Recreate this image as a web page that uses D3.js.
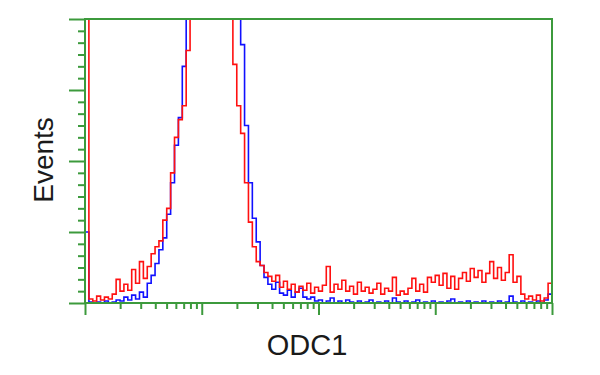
<!DOCTYPE html>
<html>
<head>
<meta charset="utf-8">
<script src="https://cdn.jsdelivr.net/npm/d3@7"></script>
<style>
  body { margin: 0; background: #fff; }
  text { font-family: "Liberation Sans", Arial, sans-serif; fill: #1a1a1a; }
</style>
</head>
<body>
<svg id="chart" width="600" height="375"></svg>
<script>
// histogram channels, 30 per decade over 4 decades (1 .. 10^4)
const channelsPerDecade = 30;

// red = ODC1 stained, blue = control (events per channel)
const redCounts = [
  420, 4, 2, 7, 3, 6, 4, 9, 24, 12,
  19, 13, 34, 20, 42, 25, 37, 50, 57, 63,
  84, 96, 132, 168, 186, 200, 256, 330, 420, 510,
  590, 640, 660, 630, 560, 480, 400, 330, 242, 200,
  172, 122, 82, 57, 42, 38, 31, 27, 22, 28,
  16, 22, 14, 19, 11, 17, 13, 20, 10, 16,
  12, 18, 37, 11, 19, 14, 23, 12, 17, 9,
  21, 12, 16, 10, 14, 20, 9, 15, 12, 26,
  8, 12, 9, 15, 25, 12, 19, 11, 26, 21,
  28, 18, 30, 15, 27, 14, 25, 31, 22, 35,
  26, 33, 21, 30, 42, 25, 36, 23, 31, 49,
  21, 27, 9, 4, 7, 3, 8, 2, 5, 20
];
const blueCounts = [
  72, 1, 0, 1, 0, 2, 0, 1, 3, 2,
  6, 3, 8, 4, 11, 6, 20, 28, 40, 54,
  66, 90, 122, 160, 188, 240, 330, 420, 520, 600,
  660, 700, 710, 680, 620, 540, 460, 390, 330, 290,
  262, 180, 122, 86, 62, 38, 26, 19, 14, 21,
  10, 8, 13, 6, 11, 15, 6, 4, 6, 2,
  3, 0, 2, 5, 0, 2, 0, 3, 1, 0,
  2, 0, 1, 3, 0, 1, 0, 2, 0, 5,
  1, 0, 2, 0, 1, 3, 0, 1, 0, 2,
  0, 1, 0, 2, 4, 0, 1, 0, 2, 0,
  1, 0, 2, 0, 1, 0, 2, 0, 1, 7,
  1, 0, 2, 0, 1, 0, 2, 0, 3, 9
];

const xDecades = [1, 10, 100, 1000, 10000];
const yMajor = [0, 72, 144, 216, 288];
const yMinorStep = 12;

const green = "#3c9a3c";
const margin = { left: 85, right: 48, top: 19, bottom: 72 };
const W = 600, H = 375;

const svg = d3.select("#chart");
svg.append("rect").attr("width", W).attr("height", H).attr("fill", "#fff");

const x = d3.scaleLog().domain([1, 10000]).range([margin.left, W - margin.right]);
const xChan = d3.scaleLinear().domain([0, redCounts.length]).range([margin.left, W - margin.right]);
const y = d3.scaleLinear().domain([0, 288]).range([H - margin.bottom, margin.top]);

svg.append("clipPath").attr("id", "plot-clip")
  .append("rect")
  .attr("x", margin.left).attr("y", margin.top)
  .attr("width", W - margin.left - margin.right)
  .attr("height", H - margin.top - margin.bottom);

// histogram step lines
const line = d3.line()
  .x((d, i) => xChan(i))
  .y(d => y(d))
  .curve(d3.curveStepAfter);

function series(counts) {
  // repeat last value so the final step reaches the right edge
  return counts.concat([counts[counts.length - 1]]);
}

const plot = svg.append("g").attr("clip-path", "url(#plot-clip)");
plot.append("path")
  .datum(series(blueCounts))
  .attr("d", line)
  .attr("fill", "none")
  .attr("stroke", "#1010ff")
  .attr("stroke-width", 1.6);
plot.append("path")
  .datum(series(redCounts))
  .attr("d", line)
  .attr("fill", "none")
  .attr("stroke", "#ff1010")
  .attr("stroke-width", 1.6);

// axes
const xMinor = [];
xDecades.slice(0, -1).forEach(d => {
  for (let k = 2; k <= 9; k++) xMinor.push(d * k);
});
const yMinor = d3.range(0, 288 + 1, yMinorStep).filter(v => !yMajor.includes(v));

function styleAxis(g) {
  g.select(".domain").remove();
  g.selectAll("line").attr("stroke", green).attr("stroke-width", 2);
}

svg.append("g")
  .attr("transform", `translate(0,${H - margin.bottom})`)
  .call(d3.axisBottom(x).tickValues(xMinor).tickSize(6).tickFormat(""))
  .call(styleAxis);
svg.append("g")
  .attr("transform", `translate(0,${H - margin.bottom})`)
  .call(d3.axisBottom(x).tickValues(xDecades).tickSize(12).tickFormat(""))
  .call(styleAxis);
svg.append("g")
  .attr("transform", `translate(${margin.left},0)`)
  .call(d3.axisLeft(y).tickValues(yMinor).tickSize(7).tickFormat(""))
  .call(styleAxis);
svg.append("g")
  .attr("transform", `translate(${margin.left},0)`)
  .call(d3.axisLeft(y).tickValues(yMajor).tickSize(16).tickFormat(""))
  .call(styleAxis);

// frame
svg.append("rect")
  .attr("x", margin.left).attr("y", margin.top)
  .attr("width", W - margin.left - margin.right)
  .attr("height", H - margin.top - margin.bottom)
  .attr("fill", "none")
  .attr("stroke", green)
  .attr("stroke-width", 2);

// labels
svg.append("text")
  .attr("x", 307).attr("y", 355)
  .attr("text-anchor", "middle")
  .style("font-size", "29px")
  .text("ODC1");

svg.append("text")
  .attr("transform", "translate(53,160) rotate(-90)")
  .attr("text-anchor", "middle")
  .style("font-size", "28px")
  .text("Events");
</script>
</body>
</html>
